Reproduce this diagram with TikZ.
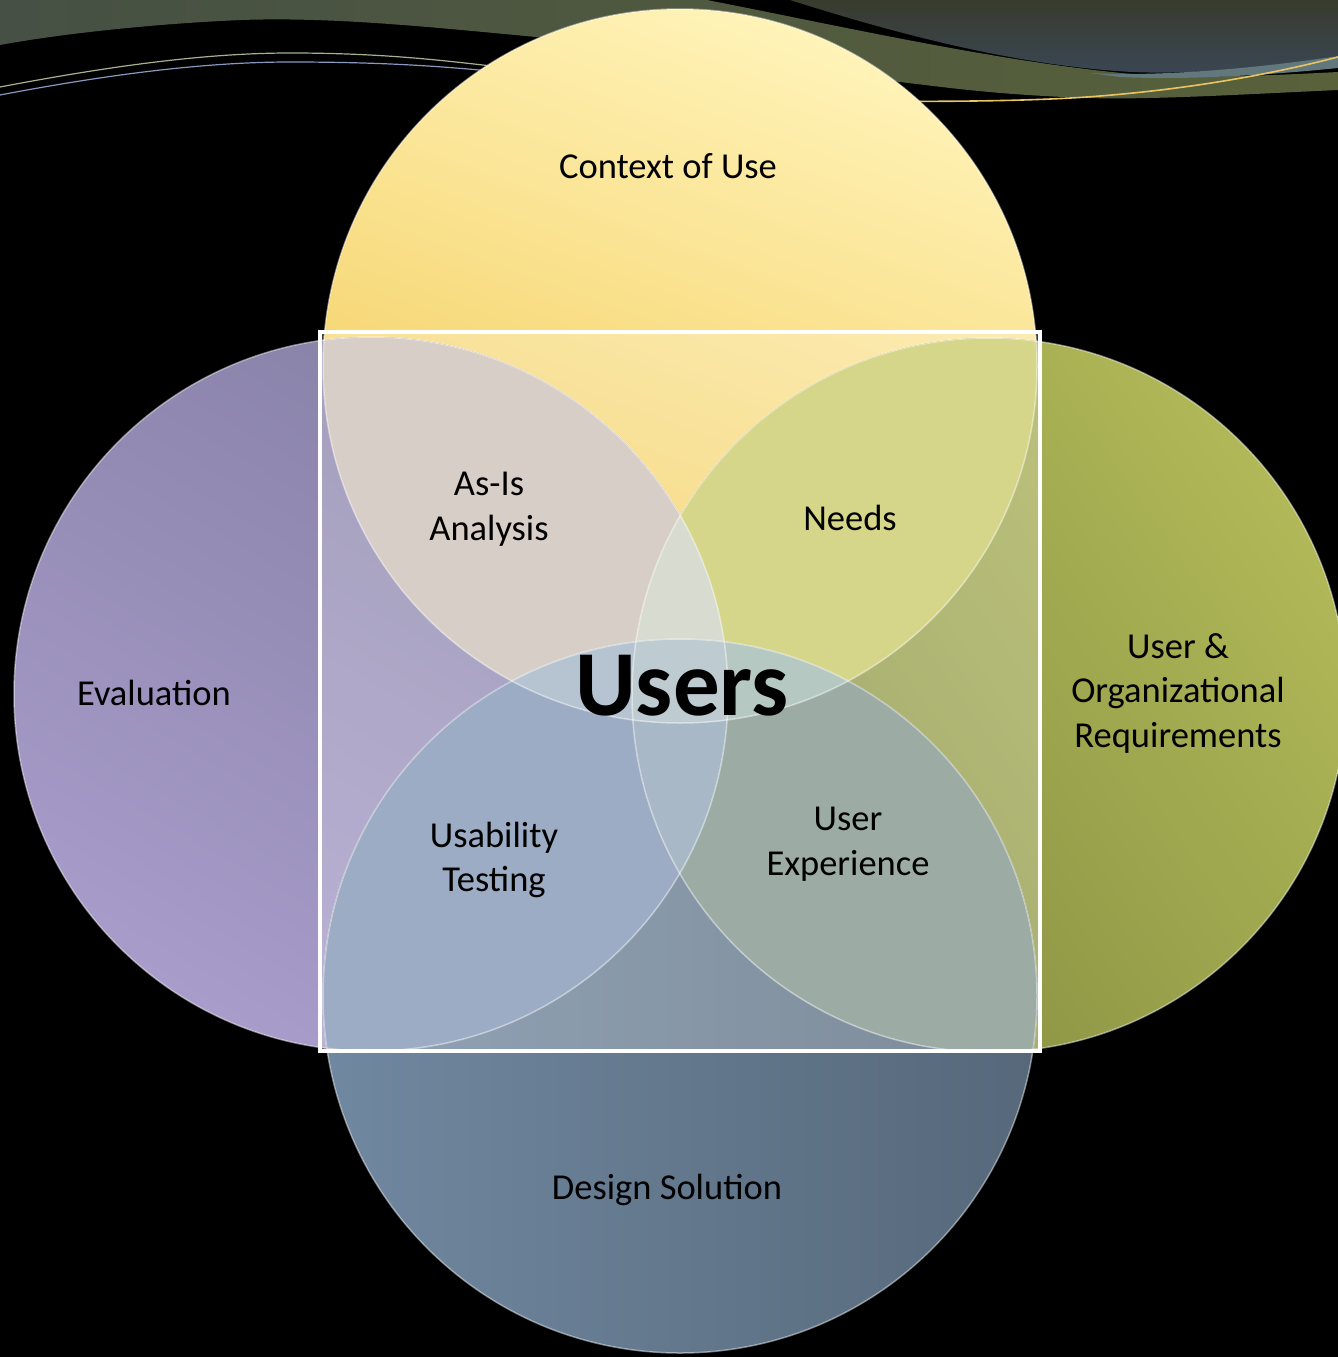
\documentclass[tikz,border=0pt]{standalone}
\usepackage{fontspec}
\setmainfont{Carlito}
\definecolor{bandL}{HTML}{465044}
\definecolor{bandR}{HTML}{58613A}
\definecolor{darkT}{HTML}{383C2E}
\definecolor{darkB}{HTML}{3A4654}
\definecolor{steel}{HTML}{62787C}
\definecolor{goldline}{HTML}{E8C464}
\definecolor{greenline}{HTML}{A8B090}
\definecolor{blueline}{HTML}{8898C0}
\definecolor{ytop}{HTML}{FFF3B8}
\definecolor{ybot}{HTML}{F2C852}
\definecolor{ptop}{HTML}{8680A6}
\definecolor{pbot}{HTML}{A89CCA}
\definecolor{otop}{HTML}{B0B858}
\definecolor{obot}{HTML}{848C40}
\definecolor{bleft}{HTML}{7088A0}
\definecolor{bright}{HTML}{56687A}
\definecolor{asis}{HTML}{D8CEC8}
\definecolor{needs}{HTML}{D6D68A}
\definecolor{usab}{HTML}{9CACC4}
\definecolor{ux}{HTML}{9CACA4}
\definecolor{tlr}{HTML}{D8DCD0}
\definecolor{blr}{HTML}{A8B8C6}
\definecolor{tbl}{HTML}{B6C4D2}
\definecolor{tbr}{HTML}{B6C8C2}
\definecolor{tblr}{HTML}{BECCD2}
\tikzset{
  lbl/.style={text=black, align=center, font=\fontsize{36.5}{44.5}\selectfont},
  rim/.style={draw=white, draw opacity=0.45, line width=1.5pt},
}
\newcommand{\CT}{(680,366) circle[radius=357pt]}
\newcommand{\CL}{(371,694) circle[radius=357pt]}
\newcommand{\CR}{(989,695) circle[radius=357pt]}
\newcommand{\CB}{(680,996) circle[radius=357pt]}
\begin{document}
\begin{tikzpicture}[x=1pt,y=-1pt]
\useasboundingbox (0,0) rectangle (1338,1357);
\fill[black] (0,0) rectangle (1338,1357);
% top decoration
\fill[left color=bandL, right color=bandR] (0,0) -- (707,0)
  .. controls (850,28) and (1000,62) .. (1132,74)
  .. controls (1200,79) and (1280,75) .. (1338,72) -- (1338,90)
  .. controls (1250,94) and (1150,100) .. (1089,98)
  .. controls (1000,95) and (950,88) .. (900,82)
  .. controls (750,62) and (640,45) .. (536,37)
  .. controls (420,26) and (330,17) .. (241,20)
  .. controls (150,24) and (60,34) .. (0,45) -- cycle;
\fill[top color=darkT, bottom color=darkB] (790,0)
  .. controls (900,35) and (1020,66) .. (1132,72)
  .. controls (1200,75) and (1280,66) .. (1338,56) -- (1338,0) -- cycle;
\fill[steel] (1090,73) .. controls (1160,77) and (1260,68) .. (1338,56)
  -- (1338,68) .. controls (1260,76) and (1180,80) .. (1120,77) -- cycle;
\draw[goldline, line width=1.6pt] (850,101) .. controls (950,102) and (1040,101) .. (1100,96)
  .. controls (1200,88) and (1280,72) .. (1338,57);
\draw[greenline, line width=1.2pt] (0,87) .. controls (100,68) and (200,53) .. (290,53)
  .. controls (380,53) and (440,60) .. (500,67);
\draw[blueline, line width=1.2pt] (0,95) .. controls (100,76) and (200,62) .. (290,62)
  .. controls (380,62) and (440,66) .. (500,72);
% circles
\fill[top color=ytop, bottom color=ybot, shading angle=-20] \CT;
\fill[top color=ptop, bottom color=pbot, shading angle=-30] \CL;
\fill[top color=otop, bottom color=obot, shading angle=-55] \CR;
\fill[left color=bleft, right color=bright] \CB;
% translucent square
\fill[white, fill opacity=0.23] (320,332) rectangle (1040,1051);
% pairwise lenses
\begin{scope}\clip \CT; \fill[asis] \CL; \end{scope}
\begin{scope}\clip \CT; \fill[needs] \CR; \end{scope}
\begin{scope}\clip \CB; \fill[usab] \CL; \end{scope}
\begin{scope}\clip \CB; \fill[ux] \CR; \end{scope}
% triple overlaps
\begin{scope}\clip \CT; \clip \CL; \fill[tlr] \CR; \end{scope}
\begin{scope}\clip \CB; \clip \CL; \fill[blr] \CR; \end{scope}
\begin{scope}\clip \CT; \clip \CB; \fill[tbl] \CL; \end{scope}
\begin{scope}\clip \CT; \clip \CB; \fill[tbr] \CR; \end{scope}
\begin{scope}\clip \CT; \clip \CB; \clip \CL; \fill[tblr] \CR; \end{scope}
% rims
\path[rim] \CT; \path[rim] \CL; \path[rim] \CR; \path[rim] \CB;
% square border
\draw[white, line width=4.5pt] (320,332) rectangle (1040,1051);
% labels
\node[lbl] (ctx) at (668,166) {Context of Use};
\node[lbl] (asis) at (489,509) {As-Is\\Analysis};
\node[lbl] (needs) at (850,518) {Needs};
\node[lbl] (eval) at (154,693) {Evaluation};
\node[lbl] (req) at (1178,693) {User \&\\Organizational\\Requirements};
\node[lbl] (usab) at (494,860) {Usability\\Testing};
\node[lbl] (ux) at (848,844) {User\\Experience};
\node[lbl] (design) at (667,1190) {Design Solution};
\node[text=black, font=\fontsize{93}{93}\selectfont\bfseries] (users) at (682,686) {Users};
\end{tikzpicture}
\end{document}
